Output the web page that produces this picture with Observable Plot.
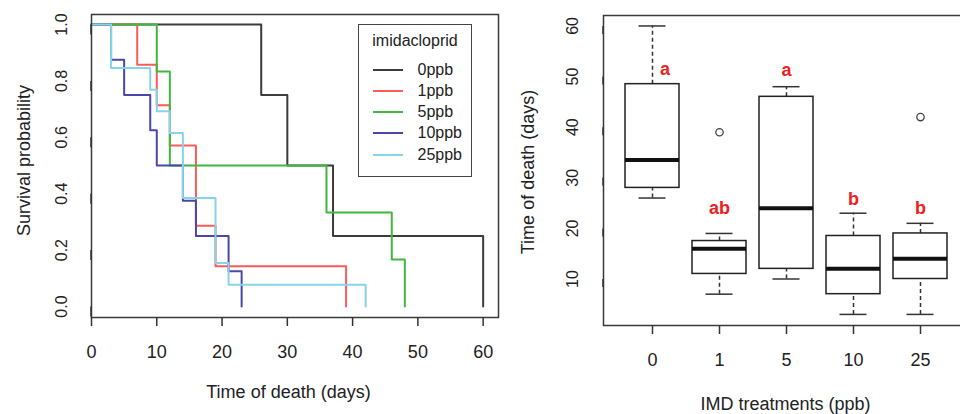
<!DOCTYPE html>
<html><head><meta charset="utf-8">
<script src="https://cdn.jsdelivr.net/npm/d3@7"></script>
<script src="https://cdn.jsdelivr.net/npm/@observablehq/plot@0.6"></script>
<style>
body{margin:0;background:#fff;}
#wrap{position:relative;width:960px;height:414px;overflow:hidden;background:#fff;font-family:"Liberation Sans",Arial,sans-serif;}
#left,#right{position:absolute;top:0;height:414px;}
#left{left:0px;width:510px;}
#right{left:500px;width:470px;}
#left svg,#right svg{max-width:none !important;}
#legend{position:absolute;left:358px;top:24px;width:112px;height:151px;border:1.5px solid #444;background:#fff;color:#222;font-size:16px;}
#legend .title{position:absolute;left:0;width:100%;text-align:center;top:7px;}
#legend .row{position:absolute;left:0;width:100%;height:20px;}
#legend .ln{position:absolute;left:13.5px;width:30px;top:9px;height:0;border-top:2px solid #000;}
#legend .lb{position:absolute;left:58.5px;top:1px;line-height:18px;}
</style></head>
<body>
<div id="wrap"><div id="left"></div><div id="right"></div><div id="legend"></div></div>
<script>
// ---------- Left panel: Kaplan-Meier survival ----------
const groups = ["0ppb","1ppb","5ppb","10ppb","25ppb"];
const colors = ["#3c3c3c","#ff5a5a","#3fb83f","#4848a8","#86d4ea"];
const times0  = [0,26,30,37,60];
const surv0   = [1,0.75,0.5,0.25,0];
const times1  = [0,7,10,12,16,19,39];
const surv1   = [1,0.857,0.714,0.571,0.286,0.143,0];
const times5  = [0,10,12,36,46,48];
const surv5   = [1,0.833,0.5,0.333,0.167,0];
const times10 = [0,3,5,9,10,14,16,21,23];
const surv10  = [1,0.875,0.75,0.625,0.5,0.375,0.25,0.125,0];
const times25 = [0,3,9,10,12,14,19,21,42];
const surv25  = [1,0.846,0.769,0.692,0.615,0.385,0.154,0.077,0];
const xTicksLeft = [0,10,20,30,40,50,60];
const yTicksLeft = [0,0.2,0.4,0.6,0.8,1.0];

const timesAll = [times0,times1,times5,times10,times25];
const survAll  = [surv0,surv1,surv5,surv10,surv25];
const survRows = groups.flatMap((g,i)=>timesAll[i].map((t,j)=>({group:g,t,s:survAll[i][j]})));

const font = '"Liberation Sans", Arial, sans-serif';

const left = Plot.plot({
  width: 510, height: 414,
  marginLeft: 91, marginRight: 12, marginTop: 14, marginBottom: 97,
  x: {domain: [0, 62.35]},
  y: {domain: [-0.039, 1.0355]},
  color: {domain: groups, range: colors},
  style: {fontFamily: font, color: "#333", background: "transparent", maxWidth: "none"},
  marks: [
    Plot.line(survRows, {x: "t", y: "s", z: "group", stroke: "group", curve: "step-after", strokeWidth: 2}),
    Plot.frame({stroke: "#3a3a3a", strokeWidth: 1.5}),
    Plot.axisX({ticks: xTicksLeft, tickSize: 9, tickPadding: 19, fontSize: 18, strokeWidth: 1.5, label: null, fill: "#222"}),
    Plot.axisY({ticks: yTicksLeft, tickSize: 10, tickPadding: 19.5, rotate: -90, textAnchor: "middle", lineAnchor: "middle",
      tickFormat: d => d.toFixed(1), fontSize: 16, strokeWidth: 1.5, label: null, fill: "#222"}),
    Plot.text(["Time of death (days)"], {text: d => d, frameAnchor: "bottom", textAnchor: "middle", lineAnchor: "middle", dy: 75, dx: -6.5, fontSize: 18, fill: "#222"}),
    Plot.text(["Survival probability"], {text: d => d, frameAnchor: "left", textAnchor: "middle", lineAnchor: "middle", dx: -67, dy: -5.5, rotate: -90, fontSize: 18, fill: "#222"})
  ]
});
document.getElementById("left").appendChild(left);

// legend (inside left plot, as in the original)
const legendTitle = "imidacloprid";
const lg = document.getElementById("legend");
const t = document.createElement("div"); t.className = "title"; t.textContent = legendTitle; lg.appendChild(t);
groups.forEach((g,i)=>{
  const r = document.createElement("div"); r.className = "row"; r.style.top = (34.5 + i*21.25) + "px";
  const l = document.createElement("div"); l.className = "ln"; l.style.borderTopColor = colors[i];
  const b = document.createElement("div"); b.className = "lb"; b.textContent = g;
  r.appendChild(l); r.appendChild(b); lg.appendChild(r);
});

// ---------- Right panel: boxplots ----------
const treat    = ["0","1","5","10","25"];
const whiskLo  = [26,7,10,3,3];
const q1       = [28,11,12,7,10];
const median   = [33.5,16,24,12,14];
const q3       = [48.5,17.5,46,18.5,19];
const whiskHi  = [60,19,48,23,21];
const outTreat = ["1","25"];
const outVal   = [39,42];
const letters  = ["a","ab","a","b","b"];
const letterY  = [51.5,24,51.2,25.8,24];
const yTicksRight = [10,20,30,40,50,60];

const boxRows = treat.map((t,i)=>({t, lo: whiskLo[i], q1: q1[i], med: median[i], q3: q3[i], hi: whiskHi[i], letter: letters[i], ly: letterY[i]}));
const outRows = outTreat.map((t,i)=>({t, v: outVal[i]}));

const right = Plot.plot({
  width: 470, height: 414,
  marginLeft: 103, marginRight: 1, marginTop: 15, marginBottom: 89,
  x: {type: "band", domain: treat, paddingInner: 0.2, paddingOuter: 0.301},
  y: {domain: [0.81, 62.07]},
  style: {fontFamily: font, color: "#333", background: "transparent", maxWidth: "none"},
  marks: [
    Plot.ruleX(boxRows, {x: "t", y1: "q3", y2: "hi", stroke: "#333", strokeWidth: 1.5, strokeDasharray: "4,3"}),
    Plot.ruleX(boxRows, {x: "t", y1: "lo", y2: "q1", stroke: "#333", strokeWidth: 1.5, strokeDasharray: "4,3"}),
    Plot.tickY(boxRows, {x: "t", y: "hi", insetLeft: 13.5, insetRight: 13.5, stroke: "#333", strokeWidth: 1.5}),
    Plot.tickY(boxRows, {x: "t", y: "lo", insetLeft: 13.5, insetRight: 13.5, stroke: "#333", strokeWidth: 1.5}),
    Plot.barY(boxRows, {x: "t", y1: "q1", y2: "q3", fill: "white", stroke: "#222", strokeWidth: 1.5}),
    Plot.tickY(boxRows, {x: "t", y: "med", stroke: "#111", strokeWidth: 4}),
    Plot.dot(outRows, {x: "t", y: "v", r: 3.7, stroke: "#444", strokeWidth: 1.3, fill: "white"}),
    Plot.text(boxRows.filter((d,i)=>i===0), {x: "t", y: "ly", text: "letter", dx: 12.6, fill: "#ee2020", fontWeight: "bold", fontSize: 18}),
    Plot.text(boxRows.filter((d,i)=>i>0), {x: "t", y: "ly", text: "letter", fill: "#ee2020", fontWeight: "bold", fontSize: 18}),
    Plot.frame({stroke: "#3a3a3a", strokeWidth: 1.5}),
    Plot.axisX({tickSize: 9, tickPadding: 18.5, fontSize: 18, strokeWidth: 1.5, label: null, fill: "#222"}),
    Plot.axisY({ticks: yTicksRight, tickSize: 8, tickPadding: 23, rotate: -90, textAnchor: "middle", lineAnchor: "middle",
      fontSize: 16, strokeWidth: 1.5, label: null, fill: "#222"}),
    Plot.text(["IMD treatments (ppb)"], {text: d => d, frameAnchor: "bottom", textAnchor: "middle", lineAnchor: "middle", dy: 78.5, dx: -1, fontSize: 18, fill: "#222"}),
    Plot.text(["Time of death (days)"], {text: d => d, frameAnchor: "left", textAnchor: "middle", lineAnchor: "middle", dx: -75, dy: 1.5, rotate: -90, fontSize: 18, fill: "#222"})
  ]
});
document.getElementById("right").appendChild(right);
</script>
</body></html>
